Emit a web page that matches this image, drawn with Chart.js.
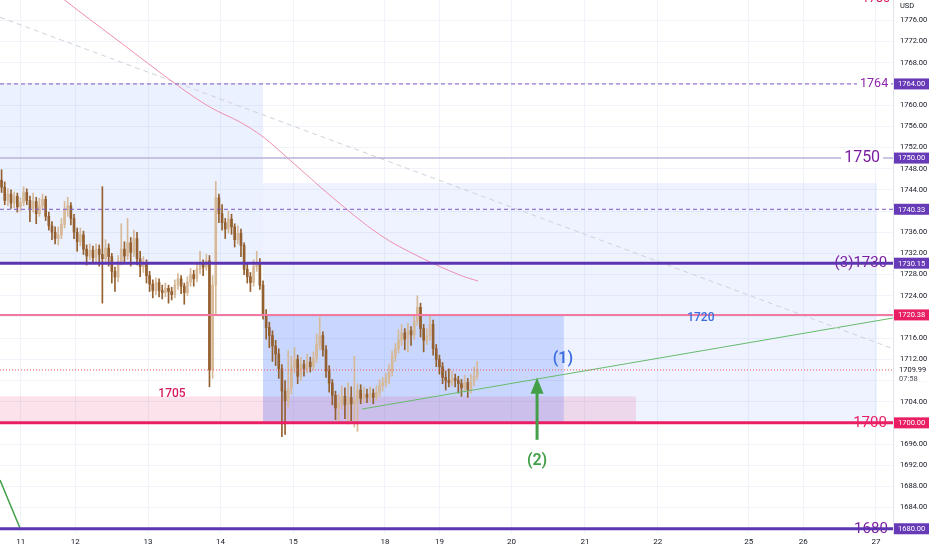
<!DOCTYPE html>
<html><head><meta charset="utf-8">
<script src="https://cdn.jsdelivr.net/npm/chart.js@4.4.1/dist/chart.umd.min.js"></script>
<style>html,body{margin:0;padding:0;background:#fff;overflow:hidden}#wrap{width:932px;height:550px;position:relative}</style>
</head><body><div id="wrap"><canvas id="c"></canvas></div>
<script>
// ---------- candle data (hourly bars) ----------
const opens = [
1745.8,1744.5,1742.0,1743.2,1741.5,1742.8,1740.8,1741.6,1743.5,1742.0,
1740.5,1741.8,1739.5,1741.0,1742.2,1739.0,1737.2,1736.0,1734.8,1735.5,
1737.5,1740.2,1741.0,1738.6,1736.0,1734.2,1735.5,1732.8,1731.5,1732.6,
1731.2,1732.8,1731.8,1731.0,1733.0,1731.4,1728.6,1727.5,1730.5,1732.8,
1731.5,1734.0,1732.2,1734.8,1731.0,1729.5,1730.2,1727.8,1726.2,1725.0,
1726.5,1725.0,1724.6,1725.4,1724.8,1724.2,1726.0,1727.2,1725.8,1724.6,
1726.6,1728.0,1727.2,1729.0,1730.0,1729.4,1730.6,1710.0,1726.0,1742.5,
1739.5,1737.8,1736.6,1738.5,1737.0,1734.6,1735.8,1733.5,1729.0,1727.6,
1726.5,1729.5,1730.2,1726.0,1720.5,1718.0,1716.5,1714.5,1713.0,1710.2,
1706.0,1704.2,1706.5,1710.5,1712.0,1708.8,1711.0,1710.2,1711.5,1710.6,
1712.2,1714.8,1716.5,1713.8,1709.8,1707.5,1705.2,1702.8,1703.6,1705.0,
1703.4,1704.8,1703.6,1704.2,1706.2,1704.6,1705.4,1704.8,1705.6,1704.8,
1705.8,1707.0,1707.6,1708.4,1709.6,1712.5,1714.0,1715.6,1717.0,1715.8,
1717.4,1716.6,1719.2,1721.8,1717.8,1715.6,1716.4,1718.6,1714.0,1712.0,
1710.6,1708.6,1708.0,1707.6,1708.4,1708.0,1707.4,1706.6,1707.6,1706.2,
1707.8,1708.8];
const highs = [
1747.8,1745.5,1744.2,1744.0,1743.6,1743.4,1742.5,1744.6,1744.2,1742.8,
1743.4,1742.6,1742.4,1743.2,1742.8,1739.8,1738.0,1737.0,1737.0,1738.6,
1741.8,1742.6,1741.6,1739.4,1736.8,1736.8,1736.2,1733.6,1733.8,1733.4,
1733.8,1733.6,1744.6,1734.6,1733.8,1732.0,1729.4,1731.6,1737.6,1734.2,
1738.6,1735.0,1736.4,1736.0,1732.4,1731.4,1730.8,1728.6,1727.0,1727.4,
1727.2,1726.0,1726.4,1726.0,1725.6,1727.0,1728.2,1727.8,1726.4,1727.6,
1729.2,1728.8,1730.2,1732.4,1730.8,1731.8,1731.6,1727.8,1745.6,1743.2,
1741.2,1738.6,1740.0,1739.4,1737.6,1737.2,1736.6,1734.0,1730.2,1728.4,
1730.8,1732.4,1731.0,1726.8,1721.4,1719.0,1717.4,1715.6,1714.0,1711.0,
1708.0,1713.6,1712.6,1714.2,1712.8,1712.4,1711.8,1713.0,1712.4,1713.4,
1716.8,1720.0,1717.2,1714.6,1710.8,1708.2,1706.0,1705.4,1707.0,1706.6,
1707.6,1706.8,1712.6,1707.4,1707.2,1706.8,1706.4,1706.8,1706.4,1707.0,
1708.2,1708.6,1709.4,1711.0,1713.6,1715.0,1717.6,1718.6,1717.8,1718.8,
1718.2,1720.4,1724.0,1722.6,1718.6,1717.8,1720.2,1719.4,1714.8,1712.8,
1711.4,1709.8,1710.2,1709.8,1709.2,1708.8,1708.2,1709.0,1708.4,1709.2,
1710.6,1711.6];
const lows = [
1743.5,1741.2,1741.0,1740.5,1740.6,1739.8,1740.0,1741.0,1741.2,1738.0,
1739.8,1737.6,1739.0,1740.2,1738.2,1736.4,1734.6,1733.8,1733.6,1734.8,
1736.8,1739.0,1737.4,1734.8,1732.4,1733.4,1731.8,1729.8,1730.8,1730.2,
1730.4,1729.6,1722.6,1730.2,1729.6,1726.4,1724.8,1726.6,1729.8,1730.0,
1730.8,1729.6,1731.4,1729.8,1727.6,1728.4,1726.4,1724.8,1723.6,1724.2,
1723.8,1723.4,1723.8,1722.6,1723.2,1723.6,1725.2,1724.4,1722.4,1724.0,
1725.8,1725.8,1726.6,1728.2,1727.8,1728.8,1706.8,1708.4,1720.4,1737.8,
1736.4,1734.8,1735.8,1735.6,1733.2,1733.8,1731.4,1728.0,1726.4,1724.8,
1725.8,1728.6,1725.2,1719.6,1715.8,1714.2,1711.6,1710.8,1708.4,1697.4,
1697.8,1703.0,1705.4,1709.4,1707.4,1708.0,1708.8,1709.4,1709.6,1710.0,
1711.4,1713.8,1712.6,1708.6,1705.8,1703.4,1700.6,1700.2,1702.6,1700.8,
1699.8,1700.4,1699.2,1698.4,1703.6,1703.8,1703.8,1704.0,1703.6,1704.2,
1705.0,1706.0,1706.8,1707.4,1708.8,1711.6,1713.2,1714.6,1713.8,1713.4,
1714.6,1715.8,1718.4,1716.2,1713.4,1714.8,1715.6,1712.8,1710.6,1709.2,
1707.4,1706.2,1706.8,1707.0,1706.8,1705.6,1705.0,1705.8,1704.8,1705.6,
1707.0,1708.2];
const closes = [
1744.5,1742.0,1743.2,1741.5,1742.8,1740.8,1741.6,1743.5,1742.0,1740.5,
1741.8,1739.5,1741.0,1742.2,1739.0,1737.2,1736.0,1734.8,1735.5,1737.5,
1740.2,1741.0,1738.6,1736.0,1734.2,1735.5,1732.8,1731.5,1732.6,1731.2,
1732.8,1731.8,1731.0,1733.0,1731.4,1728.6,1727.5,1730.5,1732.8,1731.5,
1734.0,1732.2,1734.8,1731.0,1729.5,1730.2,1727.8,1726.2,1725.0,1726.5,
1725.0,1724.6,1725.4,1724.8,1724.2,1726.0,1727.2,1725.8,1724.6,1726.6,
1728.0,1727.2,1729.0,1730.0,1729.4,1730.6,1710.0,1726.0,1742.5,1739.5,
1737.8,1736.6,1738.5,1737.0,1734.6,1735.8,1733.5,1729.0,1727.6,1726.5,
1729.5,1730.2,1726.0,1720.5,1718.0,1716.5,1714.5,1713.0,1710.2,1706.0,
1704.2,1706.5,1710.5,1712.0,1708.8,1711.0,1710.2,1711.5,1710.6,1712.2,
1714.8,1716.5,1713.8,1709.8,1707.5,1705.2,1702.8,1703.6,1705.0,1703.4,
1704.8,1703.6,1704.2,1706.2,1704.6,1705.4,1704.8,1705.6,1704.8,1705.8,
1707.0,1707.6,1708.4,1709.6,1712.5,1714.0,1715.6,1717.0,1715.8,1717.4,
1716.6,1719.2,1721.8,1717.8,1715.6,1716.4,1718.6,1714.0,1712.0,1710.6,
1708.6,1708.0,1707.6,1708.4,1708.0,1707.4,1706.6,1707.6,1706.2,1707.8,
1708.8,1710.0];

// ---------- axes ----------
const dateTickBars = [6.6, 23.9, 47.0, 70.0, 93.1, 122.2, 139.5, 162.4, 185.7, 208.8, 237.7, 255.0, 278.1];
const dateTickLabels = ['11','12','13','14','15','18','19','20','21','22','25','26','27'];
const priceTicks = [1684,1688,1692,1696,1700,1704,1708,1712,1716,1720,1724,1728,1732,1736,1740,1744,1748,1752,1756,1760,1764,1768,1772,1776];
const xMin = 0, xMax = 283.5, yMin = 1679.2, yMax = 1779.85;

// ---------- overlay lines ----------
const maBars   = [17.5, 20.6, 38.1, 56.2, 66.7, 76.2, 83.5, 92.1, 105.7, 120.6, 133.3, 146.0, 151.7];
const maValues = [1781.5, 1779.8, 1771.9, 1763.8, 1759.6, 1756.8, 1754.0, 1749.6, 1742.5, 1735.5, 1731.3, 1727.9, 1726.8];
const dashTrendBars = [0, 283.5];
const dashTrendValues = [1776.6, 1714.0];
const supportBars = [114.9, 283.5];
const supportValues = [1702.6, 1719.8];
const leftLineBars = [0, 6.3];
const leftLineValues = [1689.2, 1680.2];

// ---------- zones ----------
const zoneX0 = [0, 83.5, 83.5, 0];
const zoneX1 = [83.5, 278.4, 179, 201.9];
const zoneTop = [1764, 1745.3, 1720.38, 1705];
const zoneBottom = [1730.15, 1700, 1700, 1700];
const zoneFill = ['rgba(41,98,255,0.09)','rgba(41,98,255,0.08)','rgba(41,98,255,0.19)','rgba(233,30,99,0.13)'];

// ---------- horizontal levels ----------
const levelPrices = [1764, 1750, 1740.33, 1730.15, 1720.38, 1709.99, 1700, 1680];
const levelColor  = ['#7e57c2','#b9b2d8','#7e57c2','#5e35b1','#f27aa0','#ef5350','#e91e63','#5e35b1'];
const levelWidth  = [1, 1.5, 1, 3, 2, 1, 3, 3];
const levelDash   = [[4,3],[],[4,3],[],[],[1,2],[],[]];

// labels at right end of levels
const lvlLabelText   = ['1780','1764','1750','(3)1730','1700','1680'];
const lvlLabelBar    = [278.1, 277.5, 273.7, 273.3, 276.2, 276.5];
const lvlLabelPrice  = [1780, 1764, 1750, 1730.15, 1700, 1680];
const lvlLabelColor  = ['#d81b60','#8e24aa','#7b1fa2','#7b1fa2','#e91e63','#7b1fa2'];
const lvlLabelSize   = [12.5, 12.5, 16, 15, 15, 15];
const lvlLabelStrike = [true, false, false, true, true, true];

// free texts
const noteText  = ['1705','1720','(1)','(2)'];
const noteBar   = [54.6, 222.5, 178.7, 170.5];
const notePrice = [1705.5, 1719.8, 1712.1, 1692.8];
const noteColor = ['#d81b60','#3d6ee0','#3d6ee0','#43a047'];
const noteSize  = [12, 12, 16, 16];
const noteWeight = ['500','500','600','600'];

// arrow
const arrowBar = 170.5, arrowFrom = 1696.8, arrowTo = 1708.5;

// axis price boxes
const boxPrices = [1764, 1750, 1740.33, 1730.15, 1720.38, 1700, 1680];
const boxColors = ['#673ab7','#673ab7','#673ab7','#673ab7','#e91e63','#e91e63','#673ab7'];
const lastPrice = 1709.99, countdown = '07:58';

const FONT = "Roboto, 'Liberation Sans', sans-serif";
const UP = '#d6b998', DOWN = '#94602f';

const candleColors = closes.map((c, i) => c >= opens[i] ? UP : DOWN);
const wickData = closes.map((c, i) => ({x: i + 0.5, y: [lows[i], highs[i]]}));
const bodyData = closes.map((c, i) => ({x: i + 0.5, y: [opens[i], c]}));
const toPts = (bs, vs) => bs.map((b, i) => ({x: b, y: vs[i]}));

const overlay = {
  id: 'overlay',
  beforeDatasetsDraw(chart) {
    const {ctx, chartArea: a, scales: {x, y}} = chart;
    ctx.save();
    ctx.beginPath(); ctx.rect(a.left, a.top, a.right - a.left, a.bottom - a.top); ctx.clip();
    for (let i = 0; i < zoneX0.length; i++) {
      const x0 = x.getPixelForValue(zoneX0[i]), x1 = x.getPixelForValue(zoneX1[i]);
      const y0 = y.getPixelForValue(zoneTop[i]), y1 = y.getPixelForValue(zoneBottom[i]);
      ctx.fillStyle = zoneFill[i];
      ctx.fillRect(x0, y0, x1 - x0, y1 - y0);
    }
    ctx.restore();
  },
  afterDatasetsDraw(chart) {
    const {ctx, chartArea: a, scales: {x, y}} = chart;
    ctx.save();
    ctx.textAlign = 'center'; ctx.textBaseline = 'middle';
    for (let i = 0; i < lvlLabelText.length; i++) {
      if (!lvlLabelStrike[i]) continue;
      ctx.font = lvlLabelSize[i] + 'px ' + FONT;
      ctx.fillStyle = lvlLabelColor[i];
      ctx.fillText(lvlLabelText[i], x.getPixelForValue(lvlLabelBar[i]), y.getPixelForValue(lvlLabelPrice[i]));
    }
    for (let i = 0; i < levelPrices.length; i++) {
      const py = y.getPixelForValue(levelPrices[i]);
      ctx.beginPath();
      ctx.setLineDash(levelDash[i]);
      ctx.strokeStyle = levelColor[i];
      ctx.lineWidth = levelWidth[i];
      ctx.moveTo(a.left, py); ctx.lineTo(a.right, py); ctx.stroke();
    }
    ctx.setLineDash([]);
    for (let i = 0; i < lvlLabelText.length; i++) {
      if (lvlLabelStrike[i]) continue;
      ctx.font = lvlLabelSize[i] + 'px ' + FONT;
      const cx = x.getPixelForValue(lvlLabelBar[i]), cy = y.getPixelForValue(lvlLabelPrice[i]);
      const w = ctx.measureText(lvlLabelText[i]).width;
      ctx.fillStyle = '#ffffff';
      ctx.fillRect(cx - w / 2 - 3, cy - 3, w + 6, 6);
      ctx.fillStyle = lvlLabelColor[i];
      ctx.fillText(lvlLabelText[i], cx, cy);
    }
    for (let i = 0; i < noteText.length; i++) {
      ctx.font = noteWeight[i] + ' ' + noteSize[i] + 'px ' + FONT;
      ctx.fillStyle = noteColor[i];
      ctx.fillText(noteText[i], x.getPixelForValue(noteBar[i]), y.getPixelForValue(notePrice[i]));
    }
    const ax = x.getPixelForValue(arrowBar);
    const ay0 = y.getPixelForValue(arrowFrom), ay1 = y.getPixelForValue(arrowTo);
    ctx.strokeStyle = '#43a047'; ctx.fillStyle = '#43a047'; ctx.lineWidth = 3;
    ctx.beginPath(); ctx.moveTo(ax, ay0); ctx.lineTo(ax, ay1 + 12); ctx.stroke();
    ctx.beginPath(); ctx.moveTo(ax, ay1); ctx.lineTo(ax - 6.5, ay1 + 16); ctx.lineTo(ax + 6.5, ay1 + 16); ctx.closePath(); ctx.fill();
    ctx.restore();
  },
  afterDraw(chart) {
    const {ctx, chartArea: a, scales: {y}} = chart;
    ctx.save();
    ctx.font = '7.5px ' + FONT;
    ctx.textBaseline = 'middle'; ctx.textAlign = 'left';
    const lp = y.getPixelForValue(lastPrice);
    ctx.fillStyle = '#ffffff';
    ctx.fillRect(a.right + 1, lp - 6, 38, 18);
    ctx.fillStyle = '#131722';
    ctx.fillText(lastPrice.toFixed(2), a.right + 6, lp);
    ctx.fillStyle = '#50535e';
    ctx.fillText(countdown, a.right + 6, lp + 9);
    for (let i = 0; i < boxPrices.length; i++) {
      const py = y.getPixelForValue(boxPrices[i]);
      ctx.fillStyle = boxColors[i];
      ctx.fillRect(a.right + 1, py - 5.5, 35, 11);
      ctx.fillStyle = '#ffffff';
      ctx.fillText(boxPrices[i].toFixed(2), a.right + 5, py + 0.5);
    }
    ctx.fillStyle = '#ffffff';
    ctx.fillRect(a.right + 1, 0, 38, 10);
    ctx.fillStyle = '#131722';
    ctx.fillText('USD', a.right + 7, 6);
    ctx.restore();
  }
};

new Chart(document.getElementById('c'), {
  type: 'bar',
  data: {
    datasets: [
      {type: 'line', data: toPts(maBars, maValues), borderColor: '#ef8fae', borderWidth: 1, pointRadius: 0, tension: 0.35, order: 1},
      {type: 'line', data: toPts(dashTrendBars, dashTrendValues), borderColor: '#cfd1d7', borderWidth: 1, borderDash: [5, 4], pointRadius: 0, order: 1},
      {type: 'line', data: toPts(supportBars, supportValues), borderColor: '#66bb6a', borderWidth: 1, pointRadius: 0, order: 1},
      {type: 'line', data: toPts(leftLineBars, leftLineValues), borderColor: '#43a047', borderWidth: 1.5, pointRadius: 0, order: 1},
      {data: bodyData, backgroundColor: candleColors, barThickness: 2, grouped: false, order: 2},
      {data: wickData, backgroundColor: candleColors, barThickness: 1, grouped: false, order: 3}
    ]
  },
  options: {
    animation: false,
    responsive: true,
    maintainAspectRatio: false,
    layout: {padding: 0},
    plugins: {legend: {display: false}, tooltip: {enabled: false}},
    scales: {
      x: {
        type: 'linear', min: xMin, max: xMax, offset: false,
        grid: {color: '#f0f3fa', drawTicks: false, offset: false},
        border: {display: false},
        afterBuildTicks: s => { s.ticks = dateTickBars.map(v => ({value: v})); },
        afterFit: s => { s.height = 17; s.paddingLeft = 0; s.paddingRight = 0; },
        ticks: {autoSkip: false, maxRotation: 0, padding: 4, color: '#131722', font: {family: FONT, size: 8},
                callback: (v, i) => dateTickLabels[i]}
      },
      y: {
        position: 'right', min: yMin, max: yMax,
        grid: {color: '#f0f3fa', drawTicks: false},
        border: {display: true, color: '#e0e3eb'},
        afterBuildTicks: s => { s.ticks = priceTicks.map(v => ({value: v})); },
        afterFit: s => { s.width = 39; s.paddingTop = 0; s.paddingBottom = 0; },
        ticks: {padding: 7, color: '#131722', font: {family: FONT, size: 7.5},
                callback: v => Number(v).toFixed(2)}
      }
    }
  },
  plugins: [overlay]
});
</script></body></html>
